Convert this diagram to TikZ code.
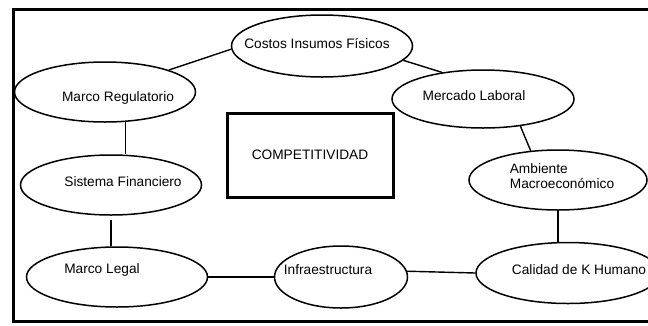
\documentclass[tikz,border=0pt]{standalone}
\usepackage{fontspec}
\setmainfont{Liberation Sans}
\usepackage{tikz}
\usetikzlibrary{shapes.geometric,positioning,calc}

\begin{document}
\begin{tikzpicture}[x=1pt, y=-1pt,
    oval/.style={draw, ellipse, line width=1.5pt, minimum width=181pt, minimum height=60pt, inner sep=0pt},
    txt/.style={font=\fontsize{13.7}{15.5}\selectfont, inner sep=0pt, text height=1.45ex, text depth=0.3ex, align=left},
    lnk/.style={line width=1.4pt},
    marco/.style={draw, line width=3pt, minimum width=166pt, minimum height=84pt, inner sep=0pt, font=\fontsize{13.7}{15.5}\selectfont}
]
\useasboundingbox (0,0) rectangle (648,325);
\clip (0,0) rectangle (648,325);
\fill[white] (0,0) rectangle (648,325);
\draw[line width=3pt] (13,9.5) rectangle (662,321.5);

% ovalos
\node[oval, minimum height=62pt] (costos) at (322,46) {};
\node[oval, minimum width=182pt, minimum height=58pt] (mercado) at (483,99) {};
\node[oval] (mreg) at (105,92) {};
\node[oval] (sist) at (111,185) {};
\node[oval, minimum width=178pt] (amb) at (558,180) {};
\node[oval] (mlegal) at (117,277) {};
\node[oval, minimum width=133pt, minimum height=62pt] (infra) at (341,277) {};
\node[oval, minimum width=184pt, minimum height=61pt] (calid) at (568,273) {};

% textos
\node[txt] (costost) at (317,45) {Costos Insumos Físicos};
\node[txt] (mercadot) at (474,97) {Mercado Laboral};
\node[txt] (mregt) at (118,98) {Marco Regulatorio};
\node[txt] (sistt) at (123,183) {Sistema Financiero};
\node[txt, text height=, text depth=] (ambt) at (562,176) {Ambiente\\Macroeconómico};
\node[txt] (mlegalt) at (102,270) {Marco Legal};
\node[txt] (infrat) at (328,271) {Infraestructura};
\node[txt] (calidt) at (579,271) {Calidad de K Humano};

\node[marco] (comp) at (310,155) {COMPETITIVIDAD};

% conexiones
\draw[lnk] (mreg.19) -- (costos.182);
\draw[lnk] (costos.350) -- (mercado.147);
\draw[lnk] (mercado.324) -- (amb.133);
\draw[lnk] (mreg.304) -- (mreg.304 |- sist.north);
\draw[lnk, shorten <=4pt] (sist.south) -- (sist.south |- mlegal.north);
\draw[lnk] (mlegal.east) -- (infra.west);
\draw[lnk] (infra.5) -- (calid.west);
\draw[lnk] (amb.south) -- (amb.south |- calid.north);
\end{tikzpicture}
\end{document}
